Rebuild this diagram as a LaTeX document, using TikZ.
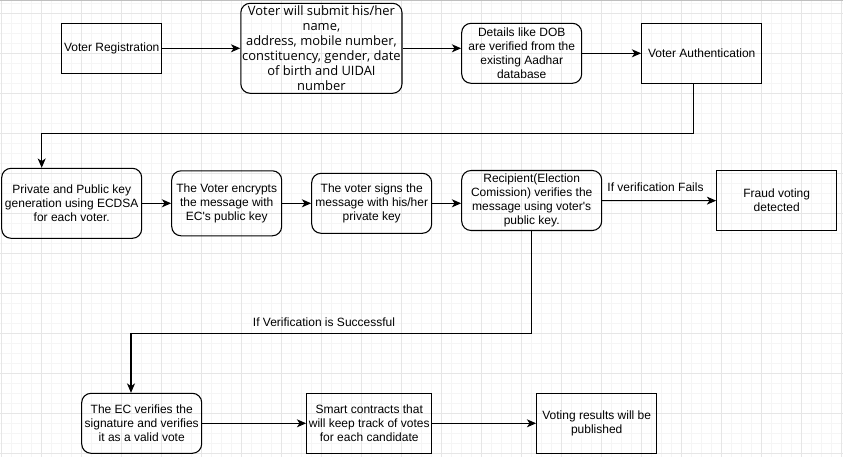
\documentclass[tikz,border=0pt]{standalone}
\usepackage{fontspec}
\setmainfont{Liberation Sans}
\newfontfamily\submitfont{Open Sans}
\usetikzlibrary{arrows.meta}
\definecolor{gridmin}{HTML}{F5F5F5}
\definecolor{gridmaj}{HTML}{E6E6E6}

\begin{document}
\begin{tikzpicture}[x=0.75pt,y=-0.75pt]
  \tikzset{
    plain_box/.style={draw, line width=0.8pt, align=center, inner sep=1pt,
      font=\fontsize{9}{10.5}\selectfont},
    round_box/.style={plain_box, rounded corners=7pt},
    flow/.style={-{Stealth[length=7pt,width=6pt,inset=2pt]}, line width=0.8pt},
    cond_lbl/.style={font=\fontsize{9}{10.5}\selectfont}
  }

  % canvas and grid
  \useasboundingbox (0,0) rectangle (843,457);
  \fill[white] (0,0) rectangle (843,457);
  \foreach \gx in {0,...,84}
    \draw[gridmin, line width=0.75pt] (1.7+\gx*10,0) -- (1.7+\gx*10,457);
  \foreach \gy in {0,...,45}
    \draw[gridmin, line width=0.75pt] (0,3.3+\gy*10) -- (843,3.3+\gy*10);
  \foreach \gx in {0,...,21}
    \draw[gridmaj, line width=0.75pt] (1.7+\gx*40,0) -- (1.7+\gx*40,457);
  \foreach \gy in {0,...,11}
    \draw[gridmaj, line width=0.75pt] (0,13.3+\gy*40) -- (843,13.3+\gy*40);
  \draw[black!25, line width=0.75pt] (0,0.4) -- (843,0.4);

  % registration row
  \node[plain_box, minimum width=75pt, minimum height=37.5pt] (reg) at (111.7,48.3) {Voter Registration};
  \node[round_box, minimum width=119.5pt, minimum height=67.5pt,
    font=\submitfont\fontsize{9.7}{11.25}\selectfont] (submit) at (321.4,48.3)
    {Voter will submit his/her\\name,\\address, mobile number,\\constituency, gender, date\\of birth and UIDAI\\number};
  \node[round_box, minimum width=90pt, minimum height=45pt] (details) at (521.7,53.3)
    {Details like DOB\\are verified from the\\existing Aadhar\\database};
  \node[plain_box, minimum width=90pt, minimum height=45pt] (auth) at (701.7,53.3) {Voter Authentication};

  % key and message row
  \node[round_box, minimum width=105pt, minimum height=52.5pt] (priv) at (71.7,203.3)
    {Private and Public key\\generation using ECDSA\\for each voter.};
  \node[round_box, minimum width=82.5pt, minimum height=48.75pt] (encrypt) at (226.7,203.3)
    {The Voter encrypts\\the message with\\EC\textquotesingle s public key};
  \node[round_box, minimum width=90pt, minimum height=45pt] (signs) at (371.7,203.3)
    {The voter signs the\\message with his/her\\private key};
  \node[round_box, minimum width=105pt, minimum height=45pt] (rec) at (531.7,200.5)
    {Recipient(Election\\Comission) verifies the\\message using voter\textquotesingle s\\public key.};
  \node[plain_box, minimum width=90pt, minimum height=45pt] (fraud) at (776.7,200.7)
    {Fraud voting\\detected};

  % vote row
  \node[round_box, minimum width=90pt, minimum height=45pt] (ecv) at (141.7,423.3)
    {The EC verifies the\\signature and verifies\\it as a valid vote};
  \node[plain_box, minimum width=93.75pt, minimum height=45pt] (smart) at (369.2,423.3)
    {Smart contracts that\\will keep track of votes\\for each candidate};
  \node[plain_box, minimum width=90pt, minimum height=45pt] (results) at (596.7,423.3)
    {Voting results will be\\published};

  % connectors
  \draw[flow] (reg) -- (submit);
  \draw[flow] (submit.east) -- (submit.east -| details.west);
  \draw[flow] (details) -- (auth);
  \coordinate (turn_a) at (693.3,133.3);
  \coordinate (turn_b) at (41.7,133.3);
  \draw[flow] (auth.south -| turn_a) -- (turn_a) -- (turn_b) -- (turn_b |- priv.north);
  \draw[flow] (priv) -- (encrypt);
  \draw[flow] (encrypt) -- (signs);
  \draw[flow] (signs.east) -- (signs.east -| rec.west);
  \draw[flow] (rec) -- (fraud);
  \node[cond_lbl] (fail_lbl) at (655.5,187.7) {If verification Fails};
  \coordinate (turn_c) at (531.7,333.3);
  \coordinate (turn_d) at (131,333.3);
  \draw[flow] (rec.south -| turn_c) -- (turn_c) -- (turn_d) -- (turn_d |- ecv.north);
  \node[cond_lbl] (ok_lbl) at (324,322.7) {If Verification is Successful};
  \draw[flow] (ecv) -- (smart);
  \draw[flow] (smart) -- (results);
\end{tikzpicture}
\end{document}
